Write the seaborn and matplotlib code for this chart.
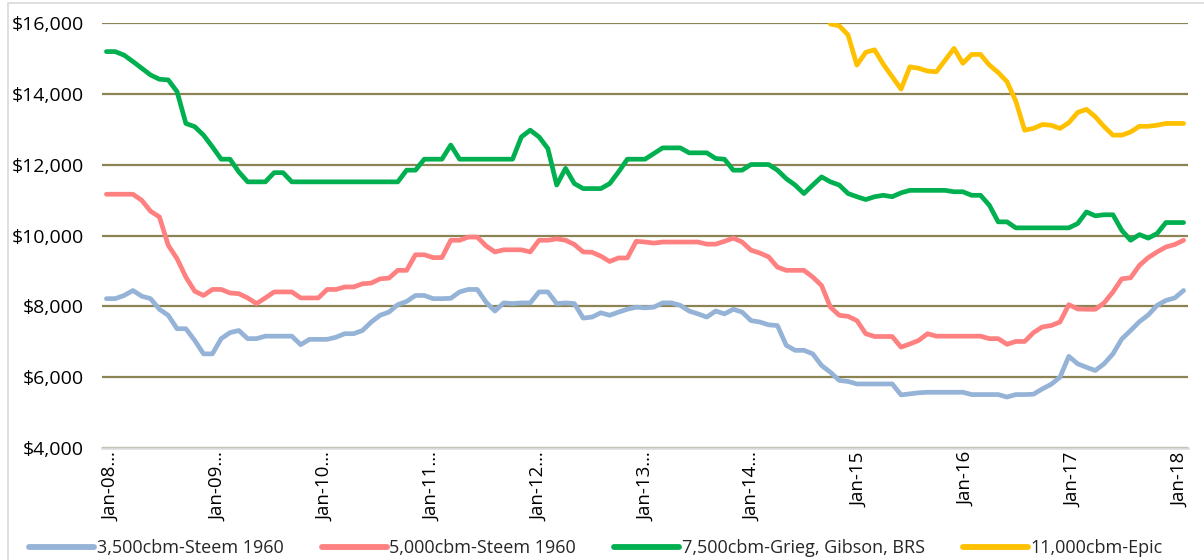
import numpy as np
import pandas as pd
import matplotlib
matplotlib.use("Agg")
import matplotlib.pyplot as plt
import seaborn as sns
from matplotlib import font_manager as fm
from matplotlib.patches import Rectangle

# ---------------- data (monthly, Jan-08 .. Mar-18) ----------------
months = pd.date_range("2008-01-01", "2018-03-01", freq="MS")

s3500 = [8220, 8220, 8310, 8450, 8290, 8220, 7920, 7750, 7370, 7370, 7040, 6660, 6660, 7090, 7260,
         7320, 7090, 7090, 7160, 7160, 7160, 7160, 6920, 7070, 7070, 7070, 7130, 7230, 7230, 7320,
         7560, 7750, 7840, 8050, 8140, 8310, 8310, 8220, 8220, 8230, 8410, 8480, 8480, 8120, 7870,
         8100, 8080, 8100, 8100, 8410, 8410, 8080, 8100, 8080, 7670, 7700, 7820, 7750, 7840, 7920,
         7980, 7960, 7980, 8100, 8100, 8030, 7870, 7790, 7700, 7870, 7790, 7920, 7840, 7600, 7560,
         7480, 7460, 6900, 6760, 6760, 6660, 6330, 6140, 5910, 5880, 5810, 5810, 5810, 5810, 5810,
         5500, 5530, 5560, 5575, 5575, 5575, 5575, 5575, 5510, 5510, 5510, 5510, 5440, 5510, 5510,
         5520, 5670, 5800, 6000, 6590, 6380, 6280, 6190, 6380, 6660, 7080, 7320, 7570, 7760, 8030,
         8170, 8240, 8450]

s5000 = [11170, 11170, 11170, 11170, 11000, 10690, 10530, 9730, 9350, 8830, 8430, 8310, 8480, 8480, 8380,
         8360, 8240, 8080, 8240, 8410, 8410, 8410, 8240, 8240, 8240, 8480, 8480, 8550, 8550, 8640,
         8660, 8780, 8800, 9020, 9020, 9460, 9460, 9380, 9380, 9870, 9870, 9960, 9960, 9710, 9540,
         9600, 9600, 9600, 9540, 9870, 9870, 9910, 9870, 9750, 9540, 9530, 9420, 9270, 9370, 9370,
         9840, 9820, 9790, 9820, 9820, 9820, 9820, 9820, 9760, 9760, 9840, 9930, 9820, 9590, 9510,
         9400, 9110, 9020, 9020, 9020, 8830, 8590, 7980, 7750, 7720, 7600, 7230, 7150, 7150, 7150,
         6850, 6940, 7040, 7230, 7160, 7160, 7160, 7160, 7160, 7160, 7090, 7090, 6930, 7010, 7010,
         7260, 7420, 7460, 7560, 8050, 7930, 7920, 7920, 8100, 8410, 8780, 8810, 9160, 9380, 9540,
         9680, 9750, 9870]

s7500 = [15200, 15200, 15100, 14920, 14730, 14540, 14420, 14400, 14070, 13170, 13080, 12840, 12510, 12160, 12160,
         11800, 11520, 11520, 11520, 11780, 11780, 11520, 11520, 11520, 11520, 11520, 11520, 11520, 11520, 11520,
         11520, 11520, 11520, 11520, 11850, 11850, 12160, 12160, 12160, 12560, 12160, 12160, 12160, 12160, 12160,
         12160, 12160, 12790, 12980, 12790, 12460, 11430, 11900, 11470, 11330, 11330, 11330, 11470, 11800, 12160,
         12160, 12160, 12320, 12480, 12480, 12480, 12340, 12340, 12340, 12180, 12160, 11850, 11850, 12010, 12010,
         12010, 11850, 11610, 11430, 11190, 11430, 11660, 11520, 11430, 11190, 11100, 11020, 11100, 11140, 11100,
         11210, 11280, 11280, 11280, 11280, 11280, 11240, 11240, 11140, 11140, 10860, 10390, 10390, 10220, 10220,
         10220, 10220, 10220, 10220, 10220, 10340, 10670, 10560, 10590, 10590, 10150, 9870, 10030, 9930, 10060,
         10370, 10370, 10370]

s11000 = [np.nan] * 82 + [
         15980, 15930, 15670, 14820, 15180, 15250, 14840, 14490, 14140, 14770,
         14730, 14650, 14630, 14960, 15290, 14870, 15120, 15120, 14820, 14610, 14350, 13800, 12980, 13030, 13140,
         13120, 13030, 13190, 13480, 13570, 13360, 13080, 12840, 12840, 12930, 13090, 13090, 13120, 13170, 13170,
         13170]

series_names = ["3,500cbm-Steem 1960", "5,000cbm-Steem 1960",
                "7,500cbm-Grieg, Gibson, BRS", "11,000cbm-Epic"]
series_values = [s3500, s5000, s7500, s11000]
colors = ["#95B3D7", "#FF8080", "#00B050", "#FFC000"]

y_ticks = [4000, 6000, 8000, 10000, 12000, 14000, 16000]
x_tick_labels = ["Jan-08…", "Jan-09…", "Jan-10…", "Jan-11…", "Jan-12…", "Jan-13…",
                 "Jan-14…", "Jan-15", "Jan-16", "Jan-17", "Jan-18"]

# ---------------- build frame ----------------
idx = np.arange(len(months))
frames = []
for name, vals in zip(series_names, series_values):
    frames.append(pd.DataFrame({"idx": idx, "value": vals, "series": name}))
df = pd.concat(frames, ignore_index=True)

# ---------------- style ----------------
sns.set_theme(style="white")
avail = {f.name for f in fm.fontManager.ttflist}
fam = [f for f in ["Liberation Sans Narrow", "Open Sans", "DejaVu Sans"] if f in avail]
plt.rcParams["font.family"] = fam

fig = plt.figure(figsize=(12.04, 5.60), dpi=100)
ax = fig.add_axes([102 / 1204, 1 - 448 / 560, (1188 - 102) / 1204, (448 - 23.3) / 560])

sns.lineplot(data=df, x="idx", y="value", hue="series", hue_order=series_names,
             palette=colors, linewidth=3.4, ax=ax, legend=False, sort=False)
for ln in ax.get_lines():
    ln.set_solid_capstyle("round")
    ln.set_solid_joinstyle("round")

ax.set_xlim(-0.5, len(months) - 0.5)
ax.set_ylim(4000, 16000)
ax.set_yticks(y_ticks)
ax.set_yticklabels([f"${v:,.0f}" for v in y_ticks], fontsize=14, color="#000000")
ax.yaxis.grid(True, color="#8C8354", linewidth=1.6)
ax.xaxis.grid(False)
ax.set_axisbelow(True)
ax.tick_params(axis="y", length=0, pad=13)

jan_pos = [i for i, m in enumerate(months) if m.month == 1]
ax.set_xticks([p + 0.6 + k * 0.1 for k, p in enumerate(jan_pos)])
ax.set_xticklabels(x_tick_labels, rotation=90, fontsize=13.5, color="#000000")
ax.set_xticks(np.arange(-0.5, len(months), 1), minor=True)
ax.tick_params(axis="x", which="major", length=0, pad=3)
ax.tick_params(axis="x", which="minor", length=5, width=1, color="#D0D0D0", direction="out")
ax.set_xlabel("")
ax.set_ylabel("")

for side in ["left", "right", "top"]:
    ax.spines[side].set_visible(False)
ax.spines["bottom"].set_color("#D9D9D9")
ax.spines["bottom"].set_linewidth(1.8)

# legend
handles = [plt.Line2D([0], [0], color=c, linewidth=4.2, solid_capstyle="round") for c in colors]
fig.legend(handles, series_names, loc="center", bbox_to_anchor=(596 / 1204, 1 - 548 / 560),
           ncol=4, frameon=False, fontsize=13, handlelength=3.6, handletextpad=0.15,
           columnspacing=2.1)

# outer chart border
fig.patches.append(Rectangle((8 / 1204, -0.01), 1.2, 1 - 3 / 560 + 0.01, transform=fig.transFigure,
                             fill=False, edgecolor="#D9D9D9", linewidth=1.2))

fig.savefig("out.png", dpi=100)
